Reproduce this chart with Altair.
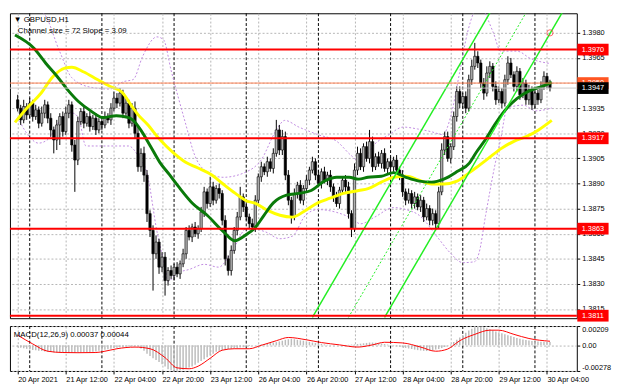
import altair as alt
import pandas as pd

# ---------------- data ----------------
first_open = 1.3940
closes = [
    1.3935, 1.3928, 1.3936, 1.3931, 1.3938, 1.3930, 1.3934, 1.3926, 1.3932, 1.3937,
    1.3929, 1.3922, 1.3916, 1.3925, 1.3930, 1.3921, 1.3932, 1.3937, 1.3913, 1.3904,
    1.3927, 1.3933, 1.3926, 1.3930, 1.3924, 1.3929, 1.3922, 1.3927, 1.3925, 1.3930,
    1.3928, 1.3935, 1.3941, 1.3938, 1.3944, 1.3932, 1.3938, 1.3926, 1.3935, 1.3920,
    1.3900, 1.3908, 1.3895, 1.3872, 1.3862, 1.3848, 1.3855, 1.3840, 1.3846, 1.3832,
    1.3838, 1.3835, 1.3840, 1.3836, 1.3842, 1.3848, 1.3862, 1.3858, 1.3864, 1.3860,
    1.3863, 1.3873, 1.3885, 1.3878, 1.3888, 1.3880, 1.3887, 1.3884, 1.3868, 1.3845,
    1.3838, 1.3850, 1.3862, 1.3870, 1.3882, 1.3876, 1.3870, 1.3866, 1.3864, 1.3880,
    1.3894, 1.3900, 1.3897, 1.3903, 1.3899, 1.3908, 1.3922, 1.3910, 1.3918, 1.3895,
    1.3880, 1.3870, 1.3884, 1.3889, 1.3880, 1.3887, 1.3892, 1.3898, 1.3903, 1.3895,
    1.3890, 1.3897, 1.3892, 1.3895, 1.3888, 1.3882, 1.3878, 1.3886, 1.3892, 1.3888,
    1.3872, 1.3863, 1.3898, 1.3908, 1.3900, 1.3912, 1.3905, 1.3915, 1.3900, 1.3906,
    1.3902, 1.3908, 1.3899, 1.3903, 1.3900, 1.3904, 1.3898, 1.3895, 1.3885, 1.3880,
    1.3884, 1.3878, 1.3882, 1.3876, 1.3880, 1.3870, 1.3875, 1.3868, 1.3872, 1.3866,
    1.3885, 1.3910, 1.3918, 1.3905, 1.3912, 1.3930, 1.3945, 1.3938, 1.3942, 1.3935,
    1.3952, 1.3960, 1.3966, 1.3962, 1.3950, 1.3944, 1.3956, 1.3960, 1.3948, 1.3940,
    1.3945, 1.3938, 1.3952, 1.3962, 1.3955, 1.3948, 1.3957, 1.3943, 1.3950, 1.3940,
    1.3946, 1.3937, 1.3944, 1.3940, 1.3948, 1.3954, 1.3950, 1.3947,
]
# wick length above / below the body, in pips
hi_pips = [
    3, 2, 4, 2, 3, 2, 3, 2, 4, 3,
    2, 3, 2, 3, 2, 3, 4, 3, 2, 3,
    3, 2, 3, 2, 3, 2, 3, 2, 2, 3,
    2, 3, 4, 3, 3, 2, 3, 2, 3, 4,
    4, 3, 4, 3, 2, 3, 4, 2, 3, 3,
    2, 3, 2, 3, 2, 3, 2, 3, 2, 3,
    2, 3, 3, 2, 6, 3, 2, 3, 2, 3,
    2, 3, 2, 3, 6, 2, 3, 2, 3, 3,
    2, 3, 2, 3, 2, 3, 6, 3, 4, 3,
    3, 2, 3, 2, 3, 2, 3, 2, 3, 2,
    3, 2, 3, 2, 3, 2, 3, 2, 2, 3,
    3, 2, 4, 4, 3, 2, 3, 7, 3, 2,
    3, 2, 3, 2, 3, 2, 3, 2, 3, 2,
    3, 2, 3, 2, 3, 2, 3, 2, 3, 2,
    3, 4, 3, 3, 2, 3, 3, 3, 2, 3,
    3, 4, 8, 3, 2, 3, 4, 3, 2, 3,
    3, 2, 3, 4, 3, 2, 3, 2, 3, 2,
    3, 2, 3, 2, 3, 3, 2, 2,
]
lo_pips = [
    2, 3, 2, 3, 2, 3, 2, 3, 2, 3,
    3, 4, 8, 6, 12, 3, 2, 3, 4, 19,
    3, 2, 3, 2, 3, 2, 3, 2, 3, 2,
    2, 3, 2, 3, 2, 3, 2, 3, 2, 3,
    3, 3, 4, 5, 4, 22, 3, 4, 3, 9,
    3, 2, 3, 2, 3, 2, 3, 2, 3, 2,
    3, 2, 3, 3, 2, 3, 2, 3, 3, 4,
    3, 3, 2, 3, 2, 3, 2, 3, 2, 3,
    2, 3, 2, 3, 2, 3, 2, 3, 3, 3,
    3, 4, 2, 3, 2, 3, 2, 3, 2, 3,
    2, 3, 2, 3, 3, 3, 2, 3, 2, 3,
    3, 5, 2, 3, 2, 3, 2, 3, 3, 2,
    2, 3, 2, 3, 2, 3, 2, 3, 3, 3,
    2, 3, 3, 2, 3, 3, 2, 3, 3, 4,
    3, 2, 3, 2, 3, 2, 3, 3, 3, 3,
    2, 3, 2, 3, 3, 4, 2, 3, 3, 3,
    2, 3, 2, 3, 2, 3, 3, 3, 2, 3,
    3, 3, 2, 3, 2, 2, 3, 2,
]
macd_hist = [
    -0.00020, -0.00026, -0.00032, -0.00038, -0.00044, -0.00050, -0.00054, -0.00058, -0.00062, -0.00066,
    -0.00070, -0.00072, -0.00074, -0.00076, -0.00078, -0.00080, -0.00080, -0.00080, -0.00080, -0.00080,
    -0.00080, -0.00078, -0.00076, -0.00074, -0.00072, -0.00070, -0.00066, -0.00060, -0.00054, -0.00048,
    -0.00042, -0.00036, -0.00030, -0.00026, -0.00022, -0.00020, -0.00016, -0.00012, -0.00010, -0.00008,
    -0.00010, -0.00035, -0.00060, -0.00090, -0.00115, -0.00140, -0.00160, -0.00180, -0.00205, -0.00230,
    -0.00260, -0.00270, -0.00278, -0.00276, -0.00270, -0.00265, -0.00255, -0.00240, -0.00230, -0.00210,
    -0.00190, -0.00170, -0.00150, -0.00130, -0.00110, -0.00090, -0.00070, -0.00060, -0.00052, -0.00046,
    -0.00040, -0.00036, -0.00032, -0.00028, -0.00024, -0.00020, -0.00014, -0.00008, -0.00003, 0.00002,
    0.00006, 0.00010, 0.00015, 0.00020, 0.00025, 0.00030, 0.00035, 0.00042, 0.00050, 0.00060,
    0.00066, 0.00070, 0.00066, 0.00060, 0.00054, 0.00050, 0.00044, 0.00038, 0.00030, 0.00026,
    0.00020, 0.00016, 0.00010, 0.00006, 0.00004, 0.00002, 0.00000, 0.00000, 0.00002, 0.00004,
    0.00006, 0.00008, 0.00010, 0.00014, 0.00018, 0.00022, 0.00026, 0.00030, 0.00030, 0.00028,
    0.00024, 0.00020, 0.00014, 0.00008, 0.00002, -0.00004, -0.00010, -0.00016, -0.00022, -0.00028,
    -0.00034, -0.00040, -0.00046, -0.00052, -0.00056, -0.00060, -0.00062, -0.00058, -0.00052, -0.00046,
    -0.00040, -0.00030, -0.00018, -0.00005, 0.00010, 0.00035, 0.00060, 0.00085, 0.00110, 0.00135,
    0.00160, 0.00180, 0.00195, 0.00209, 0.00205, 0.00195, 0.00185, 0.00175, 0.00160, 0.00150,
    0.00140, 0.00130, 0.00120, 0.00110, 0.00100, 0.00090, 0.00080, 0.00072, 0.00064, 0.00058,
    0.00052, 0.00048, 0.00045, 0.00042, 0.00040, 0.00038, 0.00036, 0.00037,
]
sig_i = [0, 5, 10, 15, 20, 26, 29, 33, 39, 44, 49, 53, 57, 60, 64, 68, 72, 77, 81, 86,
         90, 96, 101, 107, 113, 118, 122, 128, 134, 139, 143, 147, 152, 157, 160, 165, 170, 177]
sig_v = [0.00110, 0.00015, -0.00064, -0.00078, -0.00080, -0.00078, -0.00064, -0.00037, -0.00019, -0.00037,
         -0.00133, -0.00244, -0.00254, -0.00226, -0.00140, -0.00053, -0.00037, -0.00037, 0.00000, 0.00050,
         0.00085, 0.00060, 0.00030, 0.00005, -0.00019, 0.00005, 0.00033, 0.00026, -0.00019, -0.00064,
         -0.00040, 0.00050, 0.00119, 0.00164, 0.00164, 0.00119, 0.00074, 0.00044]

green_i = [-0.9, 5.4, 9.4, 13.2, 16.4, 20.2, 24.3, 28.3, 32.8, 36.9, 38.4, 40.9, 44.1, 47.2, 50.4,
           53.5, 58, 63, 68.3, 72.1, 76.2, 78.7, 81.9, 85, 89.4, 93.5, 97.6, 102, 106.1, 110.2,
           113.4, 116.5, 120.9, 125, 129.1, 133.5, 137.6, 141.7, 146.1, 150.2, 152.4, 155.6, 158.7,
           161.9, 166, 170.1, 174.5, 177.6]
green_p = [1.39787, 1.39708, 1.39617, 1.39538, 1.39464, 1.3939, 1.39334, 1.39294, 1.39305, 1.39294,
           1.39277, 1.3922, 1.39124, 1.39028, 1.38954, 1.38881, 1.38784, 1.3871, 1.38614, 1.38558,
           1.38597, 1.38631, 1.3871, 1.38784, 1.3883, 1.38841, 1.38858, 1.38914, 1.38937, 1.38937,
           1.38926, 1.38937, 1.38943, 1.38965, 1.38937, 1.38914, 1.38908, 1.38926, 1.38971, 1.39022,
           1.39084, 1.39164, 1.39254, 1.39334, 1.39407, 1.39453, 1.39481, 1.39504]
yellow_i = [-0.9, 3.1, 7.6, 11.7, 15.7, 18, 22, 26.5, 30.6, 34.6, 38.4, 40, 43.1, 47.2, 51.7,
            55.7, 59.8, 64.3, 68.3, 72.4, 76.2, 78.7, 83.1, 87.2, 91.3, 95.7, 99.8, 103.9, 108.3,
            113.4, 116.5, 120.9, 125, 129.1, 133.5, 137.6, 141.7, 146.1, 150.2, 152.4, 156.5,
            160.6, 165, 169.1, 173.2, 177.6]
yellow_p = [1.39265, 1.39351, 1.39436, 1.39538, 1.39589, 1.39594, 1.39566, 1.39521, 1.39481, 1.39447,
            1.39350, 1.39311, 1.39254, 1.39164, 1.39084, 1.39028, 1.38994, 1.38954, 1.38897, 1.38841,
            1.38795, 1.38784, 1.38739, 1.3871, 1.38699, 1.38739, 1.38784, 1.38812, 1.38841, 1.38858,
            1.38869, 1.38908, 1.38937, 1.38943, 1.3892, 1.38897, 1.38897, 1.38914, 1.38965, 1.38994,
            1.3905, 1.39107, 1.39152, 1.3918, 1.3922, 1.39277]
band_up_i = [0, 8.5, 13.9, 18, 24.3, 30.6, 35.3, 38.4, 41.6, 46.3, 48.5, 51, 55.7, 58.9, 62,
             68.3, 76.2, 80.9, 85.7, 88.8, 93.5, 99.8, 106.1, 110.9, 114, 118.7, 123.5, 128.2,
             132.9, 137.6, 141.4, 143.9, 147.1, 149.6, 153.4, 158.1, 160.6, 166, 170.7, 177]
band_up_p = [1.39980, 1.39920, 1.39691, 1.39532, 1.39475, 1.39464, 1.39509, 1.39521, 1.39662, 1.39776,
             1.39759, 1.39577, 1.39266, 1.39067, 1.38982, 1.38937, 1.38971, 1.39039, 1.39209, 1.39277,
             1.39237, 1.39192, 1.39152, 1.39067, 1.39028, 1.39135, 1.39192, 1.39237, 1.39226, 1.39209,
             1.39192, 1.39294, 1.39577, 1.39804, 1.39960, 1.39804, 1.39691, 1.39691, 1.39645, 1.39617]
band_lo_i = [0, 3.8, 6.9, 10.1, 14.8, 18, 20.2, 22.7, 30.6, 36.9, 40, 43.1, 46.3, 48.8, 50.1,
             52.6, 57.3, 62, 66.8, 71.5, 76.2, 79.4, 82.5, 87.2, 91.3, 95.7, 99.8, 106.1, 110.9,
             114, 118.7, 125, 129.1, 133.5, 139.8, 143.9, 148, 151.8, 153.4, 155.6, 158.7, 160.6,
             162.8, 168.2, 172.3, 177.6]
band_lo_p = [1.39294, 1.39181, 1.39141, 1.39164, 1.39294, 1.39322, 1.39294, 1.39124, 1.39124, 1.39124,
             1.39067, 1.38954, 1.38614, 1.38417, 1.38315, 1.3836, 1.38388, 1.38417, 1.384, 1.38502,
             1.38632, 1.38627, 1.3861, 1.3857, 1.38585, 1.3871, 1.38744, 1.38727, 1.38693, 1.38659,
             1.38699, 1.38756, 1.38744, 1.3871, 1.38574, 1.38484, 1.38427, 1.38432, 1.38484, 1.3871,
             1.39011, 1.39164, 1.39351, 1.39368, 1.39334, 1.39351]

# regression channel (Channel size = 72, Slope = 3.09)
chan_upper_i = [98, 158]
chan_mid_i = [110, 170]
chan_lower_i = [122, 182]
chan_p = [1.3810, 1.3995]
alert_i = [177]
alert_p = [1.3980]

red_levels = [1.3970, 1.3917, 1.3863, 1.3811]
line_level = [1.3950]
bid_level = [1.3947]

separators = [4, 28, 52, 76, 100, 124, 148, 172]
tick_idx = [0, 16, 32, 48, 64, 80, 96, 112, 128, 144, 160, 176]
time_labels = ["20 Apr 2021", "21 Apr 12:00", "22 Apr 04:00", "22 Apr 20:00", "23 Apr 12:00",
               "26 Apr 04:00", "26 Apr 20:00", "27 Apr 12:00", "28 Apr 04:00", "28 Apr 20:00",
               "29 Apr 12:00", "30 Apr 04:00"]
price_ticks = [1.3815, 1.3830, 1.3845, 1.3860, 1.3875, 1.3890, 1.3905, 1.3920, 1.3935, 1.3950,
               1.3965, 1.3980]
hidden_tick = 1.3950          # fully covered by the price labels in the reference
macd_ticks = [0.00209, 0.0, -0.00278]

assert len(closes) == len(hi_pips) == len(lo_pips) == len(macd_hist)

# ---------------- tables ----------------
opens = [first_open] + closes[:-1]
candles = pd.DataFrame({
    "i": list(range(len(closes))),
    "open": opens,
    "close": closes,
    "high": [max(o, c) + h * 0.0001 for o, c, h in zip(opens, closes, hi_pips)],
    "low": [min(o, c) - l * 0.0001 for o, c, l in zip(opens, closes, lo_pips)],
})
macd_df = pd.DataFrame({"i": list(range(len(macd_hist))), "v": macd_hist})
sig_df = pd.DataFrame({"i": sig_i, "v": sig_v})

# ---------------- layout ----------------
W, H1, H2 = 580, 312, 46
FONT = "Liberation Sans"
GRID = "#b4b4b4"
xs = alt.Scale(domain=[-0.95, 184.3], nice=False, zero=False)
ys = alt.Scale(domain=[1.38095, 1.39917], nice=False, zero=False)
ms = alt.Scale(domain=[-0.00278, 0.00209], nice=False, zero=False)

main_x_axis = alt.Axis(values=tick_idx, labels=False, ticks=False, domain=False, grid=True,
                       gridColor=GRID, gridDash=[2, 2], title=None)
price_axis = alt.Axis(orient="right", values=price_ticks,
                      labelExpr="abs(datum.value - %s) < 0.00001 ? '' : format(datum.value, '.4f')" % hidden_tick,
                      grid=True, gridColor=GRID,
                      gridDash=[2, 2], title=None, tickSize=3, labelPadding=2, domain=False,
                      labelFont=FONT, labelFontSize=7.5, labelColor="#000", tickColor="#000")
label_js = "[" + ",".join("'%s'" % t for t in time_labels) + "]"
macd_x_axis = alt.Axis(values=tick_idx, labelExpr=label_js + "[round(datum.value/16)]",
                       labelAlign="left", labelFlush=False, labelOverlap=False, labelPadding=2,
                       tickSize=3, grid=True, gridColor=GRID, gridDash=[2, 2], domain=False,
                       title=None, labelFont=FONT, labelFontSize=7.5, labelColor="#000",
                       tickColor="#000")
macd_axis = alt.Axis(orient="right", values=macd_ticks,
                     labelExpr="datum.value == 0 ? '0.00' : replace(format(datum.value, '.5f'), '\u2212', '-')",
                     labelFlush=True, grid=True, gridColor=GRID, gridDash=[2, 2], tickSize=3,
                     labelPadding=2, domain=False, title=None, labelFont=FONT, labelFontSize=7.5,
                     labelColor="#000", tickColor="#000")


def X(f="i"):
    return alt.X(f + ":Q", scale=xs, axis=main_x_axis)


def Y(f="p"):
    return alt.Y(f + ":Q", scale=ys, axis=price_axis)


def MX(f="i"):
    return alt.X(f + ":Q", scale=xs, axis=macd_x_axis)


def MY(f="v"):
    return alt.Y(f + ":Q", scale=ms, axis=macd_axis)


def series(ix, px):
    return pd.DataFrame({"i": ix, "p": px})


sep_df = pd.DataFrame({"i": separators})

sep_main = alt.Chart(sep_df).mark_rule(color="#000", strokeDash=[3, 2], strokeWidth=1).encode(x=X())
band_up = alt.Chart(series(band_up_i, band_up_p)).mark_line(
    color="#c08ae0", strokeDash=[2, 2], strokeWidth=1, interpolate="monotone", clip=True).encode(x=X(), y=Y())
band_lo = alt.Chart(series(band_lo_i, band_lo_p)).mark_line(
    color="#c08ae0", strokeDash=[2, 2], strokeWidth=1, interpolate="monotone", clip=True).encode(x=X(), y=Y())
wicks = alt.Chart(candles).mark_rule(color="#000", strokeWidth=1).encode(x=X(), y=Y("low"), y2="high:Q")
bodies = alt.Chart(candles).mark_bar(size=2.4, stroke="#000", strokeWidth=0.6).encode(
    x=X(), y=Y("open"), y2="close:Q",
    fill=alt.condition("datum.close >= datum.open", alt.value("#b0b0b0"), alt.value("#000000")))
yellow = alt.Chart(series(yellow_i, yellow_p)).mark_line(
    color="#ffff00", strokeWidth=3, interpolate="monotone", clip=True).encode(x=X(), y=Y())
green = alt.Chart(series(green_i, green_p)).mark_line(
    color="#0a7a0a", strokeWidth=3, interpolate="monotone", clip=True).encode(x=X(), y=Y())
ch_up = alt.Chart(series(chan_upper_i, chan_p)).mark_line(color="#22ee22", strokeWidth=1.5, clip=True).encode(x=X(), y=Y())
ch_lo = alt.Chart(series(chan_lower_i, chan_p)).mark_line(color="#22ee22", strokeWidth=1.5, clip=True).encode(x=X(), y=Y())
ch_mid = alt.Chart(series(chan_mid_i, chan_p)).mark_line(color="#22ee22", strokeWidth=1, strokeDash=[2, 2], clip=True).encode(x=X(), y=Y())
alert = alt.Chart(series(alert_i, alert_p)).mark_point(shape="circle", color="#ff3030", filled=False, size=40, strokeWidth=1).encode(x=X(), y=Y())
bid_line = alt.Chart(pd.DataFrame({"p": bid_level})).mark_rule(color="#c8c8c8", strokeWidth=1).encode(y=Y())
orange_line = alt.Chart(pd.DataFrame({"p": line_level})).mark_rule(color="#ff7f50", strokeWidth=1).encode(y=Y())
red_lines = alt.Chart(pd.DataFrame({"p": red_levels})).mark_rule(color="#ff0000", strokeWidth=2).encode(y=Y())

box_path = "M-1,-0.375L1,-0.375L1,0.375L-1,0.375Z"
lab_red = pd.DataFrame({"p": red_levels, "t": ["%.4f" % v for v in red_levels]})
lab_org = pd.DataFrame({"p": line_level, "t": ["%.4f" % v for v in line_level]})
lab_bid = pd.DataFrame({"p": bid_level, "t": ["%.4f" % v for v in bid_level]})


def price_label(df, bg):
    box = alt.Chart(df).mark_point(shape=box_path, filled=True, size=1024, opacity=1, color=bg).encode(
        x=alt.value(W + 16.5), y=Y())
    txt = alt.Chart(df).mark_text(font=FONT, fontSize=7.5, color="#ffffff", align="center",
                                  baseline="middle").encode(x=alt.value(W + 16.5), y=Y(), text="t:N")
    return box + txt


title1 = alt.Chart(pd.DataFrame({"t": ["\u25bc GBPUSD,H1"]})).mark_text(
    font=FONT, fontSize=8, color="#000", align="left", baseline="middle").encode(
    x=alt.value(4), y=alt.value(7), text="t:N")
title2 = alt.Chart(pd.DataFrame({"t": ["Channel size = 72 Slope = 3.09"]})).mark_text(
    font=FONT, fontSize=8, color="#000", align="left", baseline="middle").encode(
    x=alt.value(8), y=alt.value(18), text="t:N")

main = alt.layer(
    sep_main, band_up, band_lo, wicks, bodies, yellow, green, ch_up, ch_lo, ch_mid,
    bid_line, orange_line, red_lines, alert,
    price_label(lab_red, "#ff0000"), price_label(lab_org, "#ff5522"), price_label(lab_bid, "#000000"),
    title1, title2,
).properties(width=W, height=H1)

sep_macd = alt.Chart(sep_df).mark_rule(color="#000", strokeDash=[3, 2], strokeWidth=1).encode(x=MX())
hist = alt.Chart(macd_df).transform_calculate(zero="0").mark_bar(size=1.5, color="#bcbcbc").encode(
    x=MX(), y=MY("v"), y2="zero:Q")
signal = alt.Chart(sig_df).mark_line(color="#ff0000", strokeWidth=1, interpolate="monotone").encode(
    x=MX(), y=MY("v"))
macd_title = alt.Chart(pd.DataFrame({"t": ["MACD(12,26,9) 0.00037 0.00044"]})).mark_text(
    font=FONT, fontSize=8, color="#000", align="left", baseline="middle").encode(
    x=alt.value(4), y=alt.value(9), text="t:N")

macd = alt.layer(sep_macd, hist, signal, macd_title).properties(width=W, height=H2)

chart = alt.vconcat(main, macd, spacing=3).properties(
    padding=0, background="white"
).configure_view(stroke="#000000", strokeWidth=1)

chart.save("out.html", embed_options={"renderer": "svg", "actions": False})
